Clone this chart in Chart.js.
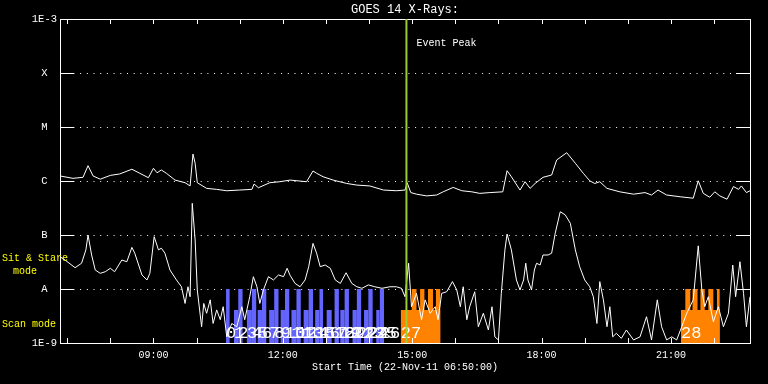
<!DOCTYPE html>
<html>
<head>
<meta charset="utf-8">
<title>GOES 14 X-Rays</title>
<script src="https://cdn.jsdelivr.net/npm/chart.js@4.4.1/dist/chart.umd.min.js"></script>
<style>
  html, body { margin: 0; padding: 0; background: #000; }
  #wrap { width: 768px; height: 384px; }
</style>
</head>
<body>
<div id="wrap"><canvas id="mycanvas" width="768" height="384"></canvas></div>
<script>
var startTime = '06:50';
var endTime = '22:50';
var peakTime = '14:52';

// GOES 14 long channel (1-8 A), W/m2
var longTimes = ['06:50','07:08','07:22','07:29','07:36','07:46','08:00','08:13','08:30','08:41','08:53','09:00','09:05','09:11','09:18','09:30','09:44','09:51','09:55','09:58','10:01','10:14','10:28','10:42','11:00','11:17','11:20','11:26','11:42','11:56','12:10','12:33','12:42','12:47','12:56','13:10','13:29','13:43','14:01','14:20','14:38','14:50','14:53','14:58','15:06','15:20','15:34','15:43','15:57','16:09','16:23','16:34','16:48','17:06','17:12','17:18','17:30','17:37','17:44','17:51','18:02','18:14','18:21','18:35','18:47','18:58','19:07','19:14','19:21','19:31','19:49','20:08','20:24','20:33','20:42','20:54','21:13','21:31','21:38','21:45','21:54','22:01','22:08','22:18','22:27','22:34','22:38','22:45','22:50'];
var longFlux = [1.24e-6,1.12e-6,1.17e-6,1.92e-6,1.24e-6,1.08e-6,1.27e-6,1.35e-6,1.65e-6,1.39e-6,1.15e-6,1.72e-6,1.42e-6,1.60e-6,1.39e-6,1.04e-6,9.3e-7,8.1e-7,3.16e-6,2.13e-6,9.3e-7,7.3e-7,7.0e-7,6.6e-7,6.8e-7,7.0e-7,8.8e-7,7.5e-7,9.3e-7,9.7e-7,1.04e-6,9.7e-7,1.53e-6,1.39e-6,1.20e-6,1.04e-6,9.0e-7,8.4e-7,8.1e-7,6.8e-7,6.6e-7,6.8e-7,9.3e-7,6.1e-7,5.7e-7,5.3e-7,5.5e-7,6.3e-7,7.6e-7,6.6e-7,6.3e-7,5.9e-7,6.1e-7,6.3e-7,1.55e-6,1.20e-6,6.8e-7,9.7e-7,7.3e-7,9.0e-7,1.17e-6,1.29e-6,2.45e-6,3.34e-6,2.13e-6,1.39e-6,1.01e-6,9.0e-7,9.7e-7,7.3e-7,6.3e-7,5.7e-7,6.1e-7,5.5e-7,6.8e-7,5.5e-7,5.1e-7,4.8e-7,1.01e-6,5.9e-7,5.0e-7,6.3e-7,5.3e-7,4.6e-7,7.9e-7,7.0e-7,8.1e-7,6.1e-7,6.6e-7];

// GOES 14 short channel (0.5-4 A), W/m2
var shortTimes = ['06:50','06:57','07:11','07:20','07:26','07:29','07:34','07:39','07:46','07:53','08:00','08:06','08:16','08:23','08:30','08:34','08:44','08:51','08:55','09:01','09:07','09:11','09:16','09:23','09:32','09:39','09:44','09:48','09:51','09:54','09:58','10:01','10:07','10:10','10:14','10:19','10:23','10:28','10:33','10:37','10:42','10:49','10:56','11:03','11:07','11:14','11:19','11:24','11:28','11:33','11:40','11:47','11:54','12:01','12:06','12:10','12:17','12:24','12:31','12:36','12:42','12:47','12:52','12:59','13:06','13:13','13:20','13:28','13:36','13:43','13:50','13:59','14:08','14:18','14:29','14:38','14:45','14:50','14:55','14:59','15:06','15:13','15:18','15:25','15:32','15:36','15:41','15:48','15:56','16:02','16:07','16:11','16:16','16:20','16:27','16:32','16:39','16:46','16:51','16:55','17:00','17:04','17:09','17:12','17:18','17:25','17:30','17:35','17:38','17:41','17:46','17:50','17:53','17:58','18:02','18:09','18:14','18:19','18:26','18:33','18:40','18:47','18:53','19:00','19:07','19:12','19:17','19:21','19:26','19:31','19:35','19:39','19:44','19:51','19:58','20:08','20:17','20:26','20:33','20:41','20:47','20:54','21:01','21:08','21:15','21:22','21:31','21:38','21:43','21:47','21:52','21:59','22:06','22:13','22:20','22:26','22:30','22:36','22:41','22:45','22:50'];
var shortFlux = [3.96e-8,3.44e-8,2.48e-8,3.0e-8,5.3e-8,1.0e-7,4.26e-8,2.25e-8,1.95e-8,2.09e-8,2.42e-8,2.09e-8,3.44e-8,3.2e-8,5.9e-8,4.6e-8,1.82e-8,1.47e-8,1.95e-8,9.3e-8,5.3e-8,5.7e-8,4.6e-8,2.25e-8,1.47e-8,1.10e-8,5.4e-9,1.10e-8,7.2e-9,3.86e-7,8.1e-8,9.6e-9,2.0e-9,5.4e-9,3.55e-9,6.3e-9,2.3e-9,4.1e-9,2.7e-9,4.7e-9,1.3e-9,2.3e-9,2.0e-9,4.7e-9,2.7e-9,7.2e-9,1.69e-8,1.10e-8,5.4e-9,9.6e-9,1.69e-8,1.47e-8,1.82e-8,1.69e-8,2.42e-8,1.8e-8,1.27e-8,1.10e-8,1.47e-8,2.59e-8,7.0e-8,4.6e-8,2.59e-8,2.78e-8,2.42e-8,1.47e-8,1.27e-8,2.0e-8,1.27e-8,1.10e-8,1.03e-8,1.19e-8,1.10e-8,1.03e-8,1.10e-8,1.10e-8,1.03e-8,7.2e-9,3.0e-8,4.7e-9,8.3e-9,2.7e-9,6.3e-9,3.55e-9,4.7e-9,2.7e-9,8.3e-9,8.9e-9,1.37e-8,9.6e-9,4.7e-9,1.10e-8,2.7e-9,4.7e-9,8.9e-9,2.0e-9,3.55e-9,1.74e-9,4.7e-9,1.3e-9,1.14e-9,8.3e-9,5.3e-8,1.04e-7,5.3e-8,1.47e-8,9.6e-9,1.47e-8,3.0e-8,1.47e-8,9.6e-9,2.25e-8,3.0e-8,2.78e-8,4.26e-8,4.26e-8,4.6e-8,1.08e-7,2.7e-7,2.35e-7,1.65e-7,5.3e-8,2.59e-8,1.47e-8,1.10e-8,7.2e-9,2.3e-9,1.37e-8,6.3e-9,2.0e-9,4.7e-9,1.3e-9,1.51e-9,1.22e-9,1.74e-9,1.14e-9,1.3e-9,3.07e-9,1.14e-9,6.3e-9,2.0e-9,1.14e-9,1.3e-9,1.14e-9,2.0e-9,3.55e-9,6.3e-9,6.3e-8,9.6e-9,4.7e-9,7.2e-9,2.48e-9,4.7e-9,2.0e-9,3.55e-9,2.78e-8,7.2e-9,3.2e-8,8.3e-9,2.0e-9,7.2e-9];

var yTickValues = [1e-9, 1e-8, 1e-7, 1e-6, 1e-5, 1e-4, 1e-3];
var yTickLabels = ['1E-9', 'A', 'B', 'C', 'M', 'X', '1E-3'];
var xLabelHours = [9, 12, 15, 18, 21];

// observations 0-26 (blue)
var blueStarts = ['10:41','10:52','10:58','11:10','11:17','11:25','11:31','11:41','11:48','11:57','12:03','12:12','12:19','12:29','12:36','12:45','12:51','13:01','13:12','13:20','13:26','13:37','13:43','13:53','13:59','14:10','14:15'];
var blueEnds = ['10:46','10:58','11:04','11:17','11:23','11:31','11:37','11:48','11:54','12:03','12:09','12:19','12:25','12:36','12:42','12:51','12:56','13:08','13:18','13:26','13:32','13:43','13:49','13:59','14:05','14:15','14:21'];
var blueModes = ['sit','scan','sit','scan','sit','scan','sit','scan','sit','scan','sit','scan','sit','scan','sit','scan','sit','scan','sit','scan','sit','scan','sit','scan','sit','scan','sit'];

// observations 27 and 28 (orange)
var orangeNumbers = [27, 28];
var orangeScanStarts = ['14:44','21:14'];
var orangeScanEnds = ['15:39','22:08'];
var orangeSitStarts = ['14:59','15:11','15:22','15:33','21:20','21:30','21:41','21:52','22:04'];
var orangeSitEnds = ['15:06','15:17','15:29','15:39','21:27','21:37','21:47','21:59','22:08'];

var SIT_LEVEL = 1e-8;
var SCAN_LEVEL = 4.1e-9;
var FLOOR = 1e-9;
var BLUE = '#6464ff';
var ORANGE = '#ff8200';
var MONO = 'Liberation Mono';

function hrs(t) {
    var p = t.split(':');
    return +p[0] + p[1] / 60;
}

function series(times, vals) {
    return times.map(function(t, i) { return {x: hrs(t), y: vals[i]}; });
}

function steps(starts, ends, level) {
    var pts = [];
    for (var i = 0; i < starts.length; i++) {
        pts.push({x: hrs(starts[i]), y: level});
        pts.push({x: hrs(ends[i]), y: FLOOR});
    }
    return pts;
}

function pick(list, mode) {
    return list.filter(function(v, i) { return blueModes[i] == mode; });
}

function blockSet(data, color) {
    return {
        data: data,
        stepped: true,
        fill: 'start',
        backgroundColor: color,
        borderColor: 'transparent',
        borderWidth: 0,
        pointRadius: 0
    };
}

var framePlugin = {
    id: 'frame',
    beforeDraw: function(chart) {
        var ctx = chart.ctx;
        ctx.save();
        ctx.fillStyle = '#000';
        ctx.fillRect(0, 0, chart.width, chart.height);
        ctx.restore();
    },
    beforeDatasetsDraw: function(chart) {
        var ctx = chart.ctx, a = chart.chartArea, y = chart.scales.y;
        ctx.save();
        ctx.strokeStyle = '#fff';
        ctx.lineWidth = 1;
        ctx.setLineDash([1, 5.7]);
        for (var i = 1; i < yTickValues.length - 1; i++) {
            var py = Math.round(y.getPixelForValue(yTickValues[i])) + 0.5;
            ctx.beginPath();
            ctx.moveTo(a.left, py);
            ctx.lineTo(a.right, py);
            ctx.stroke();
        }
        ctx.restore();
    },
    afterDatasetsDraw: function(chart) {
        var ctx = chart.ctx, a = chart.chartArea;
        var x = chart.scales.x, y = chart.scales.y;
        var bottom = y.getPixelForValue(FLOOR);
        ctx.save();

        // observation numbers
        ctx.fillStyle = '#fff';
        ctx.font = '17px "' + MONO + '"';
        ctx.textAlign = 'left';
        ctx.textBaseline = 'alphabetic';
        blueStarts.forEach(function(t, i) {
            ctx.fillText(String(i), x.getPixelForValue(hrs(t)), bottom - 5);
        });
        orangeScanStarts.forEach(function(t, i) {
            ctx.fillText(String(orangeNumbers[i]), x.getPixelForValue(hrs(t)), bottom - 5);
        });

        // frame and inward ticks
        ctx.strokeStyle = '#fff';
        ctx.lineWidth = 1;
        ctx.strokeRect(Math.round(a.left) + 0.5, Math.round(a.top) + 0.5,
                       Math.round(a.right - a.left), Math.round(a.bottom - a.top));
        ctx.beginPath();
        for (var i = 1; i < yTickValues.length - 1; i++) {
            var py = Math.round(y.getPixelForValue(yTickValues[i])) + 0.5;
            ctx.moveTo(a.left, py); ctx.lineTo(a.left + 14, py);
            ctx.moveTo(a.right - 14, py); ctx.lineTo(a.right, py);
        }
        for (var h = 7; h <= 22; h++) {
            var px = Math.round(x.getPixelForValue(h)) + 0.5;
            ctx.moveTo(px, a.bottom); ctx.lineTo(px, a.bottom - 5);
            ctx.moveTo(px, a.top); ctx.lineTo(px, a.top + 5);
        }
        ctx.stroke();

        // event peak
        var pk = x.getPixelForValue(hrs(peakTime));
        ctx.strokeStyle = '#9acd32';
        ctx.lineWidth = 2;
        ctx.beginPath();
        ctx.moveTo(pk, a.top);
        ctx.lineTo(pk, a.bottom);
        ctx.stroke();
        ctx.fillStyle = '#fff';
        ctx.font = '10px "' + MONO + '"';
        ctx.textBaseline = 'middle';
        ctx.fillText('Event Peak', pk + 10, a.top + 24);

        // title
        ctx.textAlign = 'center';
        ctx.font = '12px "' + MONO + '"';
        ctx.fillText('GOES 14 X-Rays:', (a.left + a.right) / 2, 10);

        // mode labels
        ctx.textAlign = 'left';
        ctx.fillStyle = '#ffff00';
        ctx.font = '10px "' + MONO + '"';
        ctx.fillText('Sit & Stare', 2, 258);
        ctx.fillText('mode', 13, 271);
        ctx.fillText('Scan mode', 2, 324);
        ctx.restore();
    }
};

var ctx = document.getElementById('mycanvas');

var LineGraph = new Chart(ctx, {
    type: 'line',
    data: {
        datasets: [
            {
                label: 'long',
                data: series(longTimes, longFlux),
                borderColor: '#fff',
                borderWidth: 1,
                pointRadius: 0,
                tension: 0,
                fill: false
            },
            {
                label: 'short',
                data: series(shortTimes, shortFlux),
                borderColor: '#fff',
                borderWidth: 1,
                pointRadius: 0,
                tension: 0,
                fill: false
            },
            blockSet(steps(pick(blueStarts, 'sit'), pick(blueEnds, 'sit'), SIT_LEVEL), BLUE),
            blockSet(steps(pick(blueStarts, 'scan'), pick(blueEnds, 'scan'), SCAN_LEVEL), BLUE),
            blockSet(steps(orangeSitStarts, orangeSitEnds, SIT_LEVEL), ORANGE),
            blockSet(steps(orangeScanStarts, orangeScanEnds, SCAN_LEVEL), ORANGE)
        ]
    },
    plugins: [framePlugin],
    options: {
        responsive: false,
        animation: false,
        events: [],
        layout: { padding: { top: 19, right: 18, left: 0, bottom: 0 } },
        plugins: {
            legend: { display: false },
            tooltip: { enabled: false }
        },
        scales: {
            x: {
                type: 'linear',
                min: hrs(startTime),
                max: hrs(endTime),
                afterBuildTicks: function(s) {
                    s.ticks = xLabelHours.map(function(h) { return {value: h}; });
                },
                afterFit: function(s) { s.height = 41; },
                grid: { display: false, drawTicks: false },
                border: { display: false },
                ticks: {
                    color: '#fff',
                    font: { family: MONO, size: 10 },
                    padding: 6,
                    maxRotation: 0,
                    autoSkip: false,
                    callback: function(v) { return (v < 10 ? '0' : '') + v + ':00'; }
                },
                title: {
                    display: true,
                    text: 'Start Time (22-Nov-11 06:50:00)',
                    color: '#fff',
                    font: { family: MONO, size: 10 },
                    padding: { top: 0, bottom: 10.5 }
                }
            },
            y: {
                type: 'logarithmic',
                min: 1e-9,
                max: 1e-3,
                afterBuildTicks: function(s) {
                    s.ticks = yTickValues.map(function(v) { return {value: v}; });
                },
                afterFit: function(s) { s.width = 60; },
                grid: { display: false, drawTicks: false },
                border: { display: false },
                ticks: {
                    color: '#fff',
                    font: { family: MONO, size: 10.5 },
                    crossAlign: 'center',
                    padding: 3,
                    autoSkip: false,
                    callback: function(v, i) { return yTickLabels[i]; }
                }
            }
        }
    }
});
</script>
</body>
</html>
